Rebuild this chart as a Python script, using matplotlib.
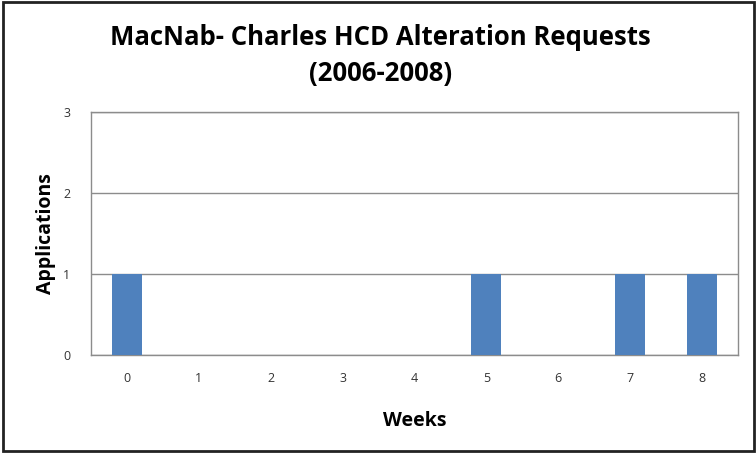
import matplotlib
matplotlib.use("Agg")
import matplotlib.pyplot as plt
from matplotlib.patches import Rectangle

# data
weeks = [0, 1, 2, 3, 4, 5, 6, 7, 8]
applications = [1, 0, 0, 0, 0, 1, 0, 1, 1]
y_ticks = [0, 1, 2, 3]

plt.rcParams['font.family'] = ['Open Sans', 'DejaVu Sans']

fig = plt.figure(figsize=(7.56, 4.53), dpi=100)
ax = fig.add_axes([91 / 756, 1 - 355 / 453, (738 - 91) / 756, (355 - 112) / 453])

ax.bar(weeks, applications, width=0.42, color='#4F81BD', zorder=3)
ax.set_xlim(-0.5, len(weeks) - 0.5)
ax.set_ylim(0, 3)
ax.set_xticks(weeks)
ax.set_yticks(y_ticks)
ax.tick_params(length=0, labelsize=9, colors='#333333')
ax.tick_params(axis='x', pad=12)
ax.tick_params(axis='y', pad=15)
ax.grid(axis='y', color='#8c8c8c', linewidth=1, zorder=0)
for s in ax.spines.values():
    s.set_color('#8c8c8c')
    s.set_linewidth(1)

ax.set_xlabel('Weeks', fontsize=14, fontweight='bold', labelpad=19)
ax.set_ylabel('Applications', fontsize=14, fontweight='bold', labelpad=5)

fig.text(0.503, 0.877, 'MacNab- Charles HCD Alteration Requests\n(2006-2008)',
         ha='center', va='center', fontsize=18.5, fontweight='bold', linespacing=1.45)

# outer frame of the chart
fig.patches.append(Rectangle((0.004, 0.004), 0.993, 0.992, transform=fig.transFigure,
                             fill=False, edgecolor='#222222', linewidth=2))

fig.savefig('out.png', dpi=100)
